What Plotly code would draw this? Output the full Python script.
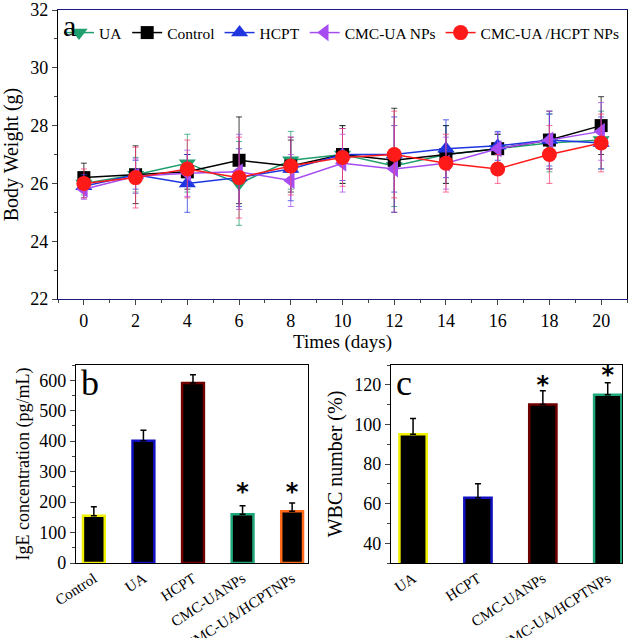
import plotly.graph_objects as go

# ---------------- Panel a data ----------------
days = [0, 2, 4, 6, 8, 10, 12, 14, 16, 18, 20]
ua = [26.0, 26.3, 26.7, 26.0, 26.8, 27.0, 26.6, 27.0, 27.2, 27.4, 27.5]
ua_err = [0.4, 0.6, 1.0, 1.45, 1.0, 1.0, 1.4, 1.0, 0.5, 1.0, 1.0]
control = [26.2, 26.3, 26.4, 26.8, 26.6, 27.0, 26.8, 27.0, 27.2, 27.5, 28.0]
control_err = [0.5, 1.0, 0.6, 1.5, 0.9, 1.0, 1.8, 1.0, 0.5, 1.0, 1.0]
hcpt = [25.9, 26.3, 26.0, 26.2, 26.5, 27.0, 27.0, 27.2, 27.3, 27.5, 27.4]
hcpt_err = [0.4, 0.5, 1.0, 1.0, 1.1, 0.9, 1.3, 1.0, 0.5, 0.9, 0.9]
cmc_ua = [25.8, 26.25, 26.35, 26.4, 26.1, 26.7, 26.5, 26.7, 27.2, 27.5, 27.8]
cmc_ua_err = [0.35, 0.6, 0.8, 1.3, 0.9, 1.0, 1.5, 0.9, 0.55, 1.0, 1.0]
cmc_hcpt = [26.0, 26.2, 26.5, 26.2, 26.6, 26.9, 27.0, 26.7, 26.5, 27.0, 27.4]
cmc_hcpt_err = [0.5, 1.05, 1.0, 1.4, 1.0, 1.0, 1.5, 1.0, 0.5, 1.0, 1.0]

series_names = ["UA", "Control", "HCPT", "CMC-UA NPs", "CMC-UA /HCPT NPs"]
series_vals = [ua, control, hcpt, cmc_ua, cmc_hcpt]
series_errs = [ua_err, control_err, hcpt_err, cmc_ua_err, cmc_hcpt_err]
series_colors = ["#1f9e6e", "#000000", "#1f35e0", "#a64cf0", "#ff1a1a"]
err_colors = ["rgba(31,158,110,0.75)", "rgba(0,0,0,0.75)", "rgba(31,53,224,0.75)",
              "rgba(166,76,240,0.75)", "rgba(255,60,110,0.75)"]
symbols = ["triangle-down", "square", "triangle-up", "triangle-left", "circle"]
marker_sizes = [15, 13, 15, 15, 15]

# ---------------- Panel b data ----------------
b_cats = ["Control", "UA", "HCPT", "CMC-UANPs", "CMC-UA/HCPTNPs"]
b_vals = [155, 401, 591, 160, 170]
b_err = [30, 35, 27, 28, 27]
b_edge = ["#f0f000", "#1010c0", "#700000", "#1fa878", "#ff6a1a"]
b_star_cats = ["CMC-UANPs", "CMC-UA/HCPTNPs"]
b_star_y = [228, 228]

# ---------------- Panel c data ----------------
c_cats = ["UA", "HCPT", "CMC-UANPs", "CMC-UA/HCPTNPs"]
c_vals = [95, 63, 110, 115]
c_err = [8, 7, 7, 6]
c_edge = ["#f0f000", "#1010c0", "#700000", "#1fa878"]
c_star_cats = ["CMC-UANPs", "CMC-UA/HCPTNPs"]
c_star_y = [119, 124]

FONT = "Liberation Serif"
STAR_FONT = dict(family="DejaVu Sans", size=24, color="black", weight="bold")
fig = go.Figure()

for name, vals, errs, col, ecol, sym, ms in zip(series_names, series_vals, series_errs,
                                                series_colors, err_colors, symbols, marker_sizes):
    fig.add_trace(go.Scatter(
        x=days, y=vals, name=name, mode="lines+markers",
        line=dict(color=col, width=1.5),
        marker=dict(symbol=sym, size=ms, color=col),
        error_y=dict(type="data", array=errs, color=ecol, thickness=1, width=3),
        xaxis="x", yaxis="y",
    ))

fig.add_trace(go.Bar(
    x=b_cats, y=b_vals, width=0.44, showlegend=False,
    marker=dict(color="black", line=dict(color=b_edge, width=2.5)),
    error_y=dict(type="data", symmetric=False, array=b_err, arrayminus=[0]*len(b_err),
                 color="black", thickness=1.5, width=3),
    xaxis="x2", yaxis="y2",
))
fig.add_trace(go.Scatter(
    x=b_star_cats, y=b_star_y, mode="text", text=["*"]*len(b_star_cats), showlegend=False,
    textfont=STAR_FONT, textposition="middle center", xaxis="x2", yaxis="y2",
))

fig.add_trace(go.Bar(
    x=c_cats, y=c_vals, width=0.42, showlegend=False,
    marker=dict(color="black", line=dict(color=c_edge, width=2.5)),
    error_y=dict(type="data", symmetric=False, array=c_err, arrayminus=[0]*len(c_err),
                 color="black", thickness=1.5, width=3),
    xaxis="x3", yaxis="y3",
))
fig.add_trace(go.Scatter(
    x=c_star_cats, y=c_star_y, mode="text", text=["*"]*len(c_star_cats), showlegend=False,
    textfont=STAR_FONT, textposition="middle center", xaxis="x3", yaxis="y3",
))

W, H = 631, 638
def dx(a, b):
    return [a / W, b / W]
def dy(top, bottom):
    return [1 - bottom / H, 1 - top / H]
def px(x):
    return x / W
def py(y):
    return 1 - y / H

axis_common = dict(showline=True, mirror=True, linewidth=1.2, showgrid=False, zeroline=False,
                   ticks="outside", ticklabeloverflow="allow",
                   tickfont=dict(family=FONT, size=18, color="black"))
noticks = {k: v for k, v in axis_common.items() if k not in ("ticks", "tickfont")}

fig.update_layout(
    width=W, height=H, margin=dict(l=0, r=0, t=0, b=0, autoexpand=False),
    paper_bgcolor="white", plot_bgcolor="white",
    font=dict(family=FONT, color="black"),
    xaxis=dict(domain=dx(58, 627), range=[-1, 21], tickmode="array", tickvals=days,
               linecolor="#1a1a80", ticklen=5, minor=dict(dtick=1, ticks="outside", ticklen=3, tick0=1),
               title=dict(text="Times (days)", font=dict(family=FONT, size=19), standoff=4),
               anchor="y", **axis_common),
    yaxis=dict(domain=dy(10, 299), range=[22, 32], dtick=2, linecolor="black", ticklen=5,
               minor=dict(dtick=1, ticks="outside", ticklen=3),
               title=dict(text="Body Weight (g)", font=dict(family=FONT, size=20), standoff=8),
               anchor="x", **axis_common),
    xaxis2=dict(domain=dx(76, 308), range=[-0.36, 4.32], linecolor="black",
                tickangle=-33, ticks="", anchor="y2", **noticks,
                tickfont=dict(family=FONT, size=15, color="black")),
    yaxis2=dict(domain=dy(365, 563), range=[0, 650], dtick=100, linecolor="black", ticklen=5,
                minor=dict(dtick=50, ticks="outside", ticklen=3),
                title=dict(text="IgE concentration (pg/mL)", font=dict(family=FONT, size=18), standoff=4),
                anchor="x2", **axis_common),
    xaxis3=dict(domain=dx(391, 622), range=[-0.34, 3.22], linecolor="black",
                tickangle=-33, ticks="", anchor="y3", **noticks,
                tickfont=dict(family=FONT, size=15, color="black")),
    yaxis3=dict(domain=dy(365, 563), range=[30, 130], tickvals=[40, 60, 80, 100, 120],
                linecolor="black", ticklen=5,
                minor=dict(dtick=10, tick0=30, ticks="outside", ticklen=3),
                title=dict(text="WBC number (%)", font=dict(family=FONT, size=20), standoff=6),
                anchor="x3", **axis_common),
    legend=dict(orientation="h", x=px(59), y=py(16), xanchor="left", yanchor="top",
                bgcolor="rgba(0,0,0,0)", font=dict(family=FONT, size=15.5, color="black"),
                itemwidth=30, tracegroupgap=0, traceorder="normal"),
    annotations=[
        dict(text="a", xref="paper", yref="paper", x=px(61), y=py(7), xanchor="left", yanchor="top",
             showarrow=False, font=dict(family=FONT, size=30, color="black")),
        dict(text="b", xref="paper", yref="paper", x=px(79), y=py(361), xanchor="left", yanchor="top",
             showarrow=False, font=dict(family=FONT, size=36, color="black")),
        dict(text="c", xref="paper", yref="paper", x=px(394), y=py(361), xanchor="left", yanchor="top",
             showarrow=False, font=dict(family=FONT, size=36, color="black")),
    ],
)

fig.write_html("out.html", config={"displayModeBar": False},
               post_script="document.body.style.margin='0px';document.body.style.overflow='hidden';")
